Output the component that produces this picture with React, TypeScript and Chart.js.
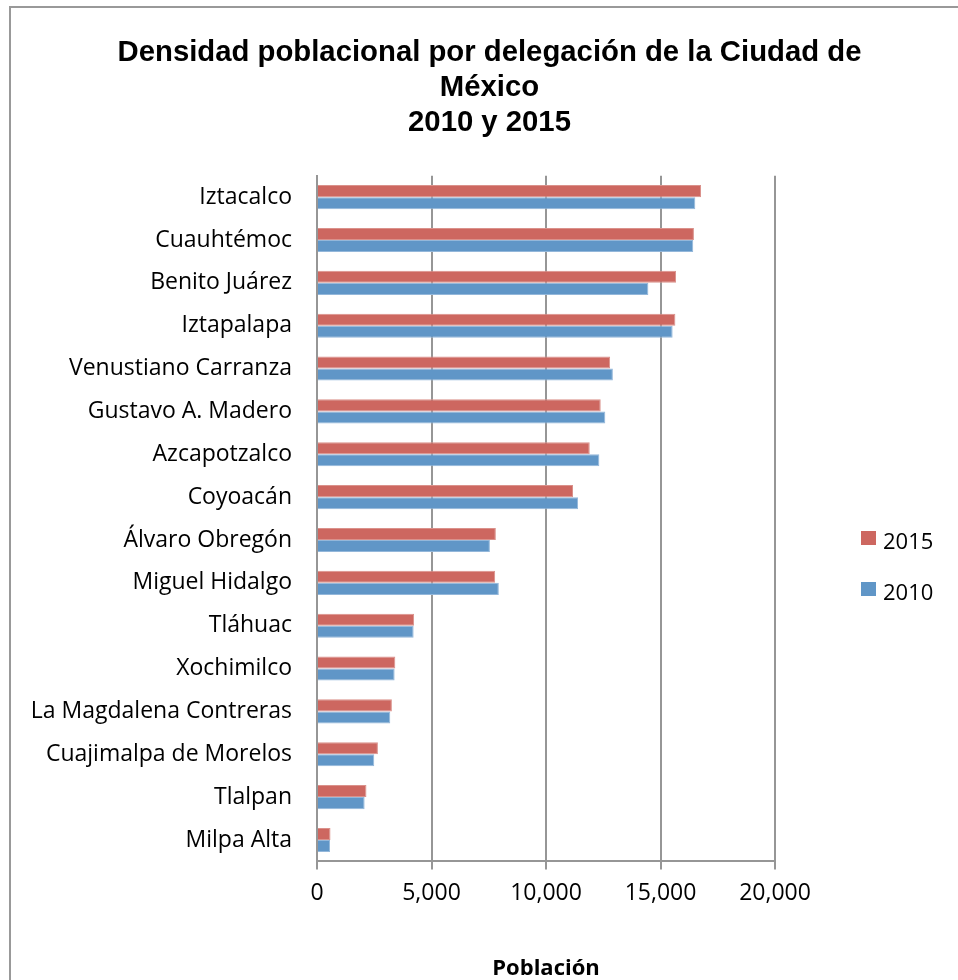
import React, { useEffect, useRef } from 'react';
import { Chart, registerables, layouts } from 'chart.js';

Chart.register(...registerables);

const categories = [
  'Iztacalco',
  'Cuauhtémoc',
  'Benito Juárez',
  'Iztapalapa',
  'Venustiano Carranza',
  'Gustavo A. Madero',
  'Azcapotzalco',
  'Coyoacán',
  'Álvaro Obregón',
  'Miguel Hidalgo',
  'Tláhuac',
  'Xochimilco',
  'La Magdalena Contreras',
  'Cuajimalpa de Morelos',
  'Tlalpan',
  'Milpa Alta',
];
const values2015 = [16770, 16460, 15680, 15650, 12800, 12390, 11910, 11180, 7810, 7780, 4240, 3420, 3270, 2660, 2160, 590];
const values2010 = [16520, 16430, 14470, 15530, 12920, 12590, 12330, 11400, 7550, 7940, 4220, 3390, 3200, 2500, 2080, 570];
const xTickLabels = ['0', '5,000', '10,000', '15,000', '20,000'];
const seriesNames = ['2015', '2010'];
const titleLines = ['Densidad poblacional por delegación de la Ciudad de', 'México', '2010 y 2015'];
const axisTitle = 'Población';

const RED = '#CD6760';
const BLUE = '#6096C7';
const GRID = '#969696';
const LABEL_FONT = '"Open Sans", Calibri, sans-serif';

// reserves an empty column on the right of the plot (where the legend sits)
const rightSpacer = {
  id: 'rightSpacer',
  beforeInit(chart: any) {
    const box: any = {
      position: 'right',
      weight: 100,
      fullSize: false,
      options: {},
      left: 0,
      top: 0,
      right: 0,
      bottom: 0,
      width: 0,
      height: 0,
      isHorizontal() {
        return false;
      },
      update(_maxWidth: number, maxHeight: number) {
        this.width = 183;
        this.height = maxHeight;
      },
      draw() {},
    };
    layouts.addBox(chart, box);
  },
};

export default function App() {
  const canvasRef = useRef<HTMLCanvasElement | null>(null);

  useEffect(() => {
    const canvas = canvasRef.current;
    if (!canvas) return;
    const chart = new Chart(canvas, {
      type: 'bar',
      data: {
        labels: categories,
        datasets: [
          {
            label: seriesNames[0],
            data: values2015,
            backgroundColor: RED,
            borderColor: '#DA918B',
            borderWidth: 1,
            categoryPercentage: 0.5625,
            barPercentage: 1,
          },
          {
            label: seriesNames[1],
            data: values2010,
            backgroundColor: BLUE,
            borderColor: '#93B7DA',
            borderWidth: 1,
            categoryPercentage: 0.5625,
            barPercentage: 1,
          },
        ],
      },
      plugins: [rightSpacer],
      options: {
        indexAxis: 'y',
        animation: false,
        responsive: true,
        maintainAspectRatio: false,
        layout: { padding: { left: 10, right: 0, top: 0, bottom: 0 } },
        plugins: {
          legend: { display: false },
          tooltip: { enabled: false },
          title: {
            display: true,
            text: titleLines,
            color: '#000',
            font: { family: '"Liberation Sans", Arial, sans-serif', size: 29.3, weight: 'bold', lineHeight: 1.18 },
            padding: { top: 28, bottom: 36 },
          },
        },
        scales: {
          x: {
            type: 'linear',
            position: 'bottom',
            min: 0,
            max: 20000,
            ticks: {
              stepSize: 5000,
              color: '#000',
              padding: 10,
              font: { family: LABEL_FONT, size: 23 },
              callback: (v: any) => xTickLabels[Math.round(Number(v) / 5000)] ?? '',
            },
            grid: { color: GRID, lineWidth: 2, drawTicks: true, tickLength: 8, tickColor: GRID },
            border: { display: true, color: GRID, width: 2 },
            title: {
              display: true,
              text: axisTitle,
              color: '#000',
              font: { family: LABEL_FONT, size: 22, weight: 'bold', lineHeight: 1.0 },
              padding: { top: 41, bottom: 0 },
            },
          },
          y: {
            type: 'category',
            position: 'left',
            ticks: {
              color: '#000',
              padding: 25,
              font: { family: LABEL_FONT, size: 23 },
              autoSkip: false,
            },
            grid: { display: false, drawTicks: false },
            border: { display: true, color: GRID, width: 2 },
            afterFit: (scale: any) => {
              scale.width = 296;
            },
          },
        },
      },
    });
    return () => chart.destroy();
  }, []);

  const legendText: React.CSSProperties = {
    position: 'absolute',
    fontFamily: LABEL_FONT,
    fontSize: 22,
    lineHeight: '22px',
    color: '#000',
    whiteSpace: 'nowrap',
  };

  return (
    <div
      style={{
        position: 'absolute',
        left: 9,
        top: 6,
        width: 949,
        height: 974,
        borderLeft: '2px solid #999',
        borderTop: '2px solid #999',
        boxSizing: 'border-box',
        background: '#fff',
        overflow: 'hidden',
      }}
    >
      <div style={{ position: 'absolute', left: 0, top: 0, width: 947, height: 972 }}>
        <canvas ref={canvasRef} />
      </div>
      <div style={{ position: 'absolute', left: 861 - 11, top: 531 - 8, width: 15, height: 14, background: RED }} />
      <div style={{ ...legendText, left: 883 - 11, top: 529 - 8 }}>{seriesNames[0]}</div>
      <div style={{ position: 'absolute', left: 861 - 11, top: 582 - 8, width: 15, height: 14, background: BLUE }} />
      <div style={{ ...legendText, left: 883 - 11, top: 580 - 8 }}>{seriesNames[1]}</div>
    </div>
  );
}
